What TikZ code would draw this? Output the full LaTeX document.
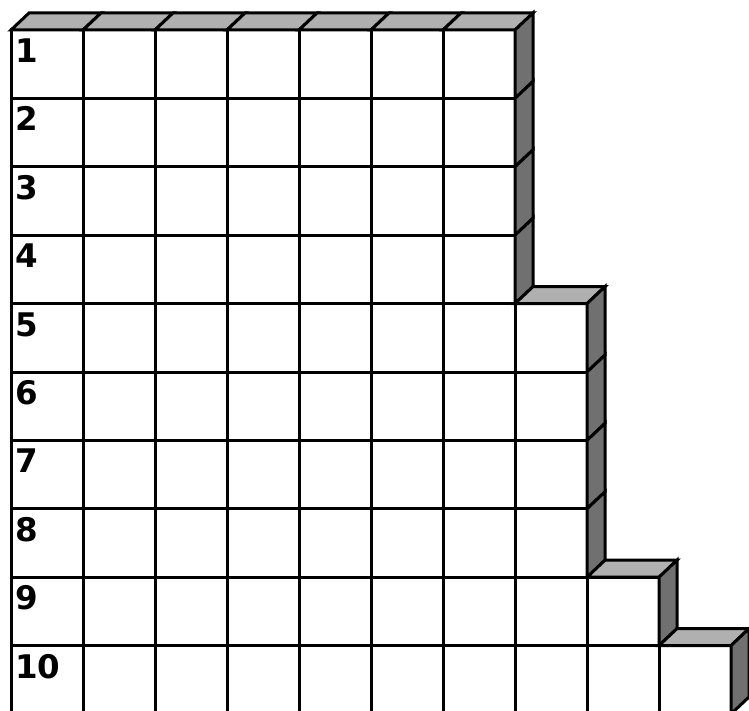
\documentclass[tikz,border=0pt]{standalone}
\usepackage{fontspec}
\setmainfont{DejaVu Sans}
\begin{document}
\begin{tikzpicture}[x=1pt,y=-1pt,
  cell/.style={draw=black,line width=3pt,fill=white,line join=miter},
  topface/.style={draw=black,line width=3pt,fill=topgray,line join=miter},
  sideface/.style={draw=black,line width=3pt,fill=sidegray,line join=miter},
  rowlabel/.style={anchor=base west,inner sep=0pt,font=\fontsize{32.5pt}{32.5pt}\selectfont\bfseries}]
\definecolor{topgray}{RGB}{176,176,176}
\definecolor{sidegray}{RGB}{112,112,112}
\useasboundingbox (0,0) rectangle (749,711);
\pgfmathsetmacro{\dx}{18}
\pgfmathsetmacro{\dy}{17}
% number of columns per row
\def\ncols{{0,7,7,7,7,8,8,8,8,9,10}}
\foreach \r in {1,...,10}{
  \pgfmathtruncatemacro{\n}{\ncols[\r]}
  \pgfmathtruncatemacro{\p}{\r==1 ? 0 : \ncols[\r-1]}
  \pgfmathsetmacro{\yt}{30+68.4*(\r-1)}
  \pgfmathsetmacro{\yb}{30+68.4*\r}
  \foreach \c in {1,...,\n}{
    \pgfmathsetmacro{\xl}{11+72*(\c-1)}
    \pgfmathsetmacro{\xr}{11+72*\c}
    \draw[cell] (\xl,\yt) rectangle (\xr,\yb);
    \ifnum\c>\p
      \draw[topface] (\xl,\yt) -- (\xr,\yt) -- (\xr+\dx,\yt-\dy) -- (\xl+\dx,\yt-\dy) -- cycle;
    \fi
  }
  \pgfmathsetmacro{\xe}{11+72*\n}
  \draw[sideface] (\xe,\yt) -- (\xe+\dx,\yt-\dy) -- (\xe+\dx,\yb-\dy) -- (\xe,\yb) -- cycle;
  \node[rowlabel] (lab\r) at (15,\yt+32.5) {\r};
}
\end{tikzpicture}
\end{document}
